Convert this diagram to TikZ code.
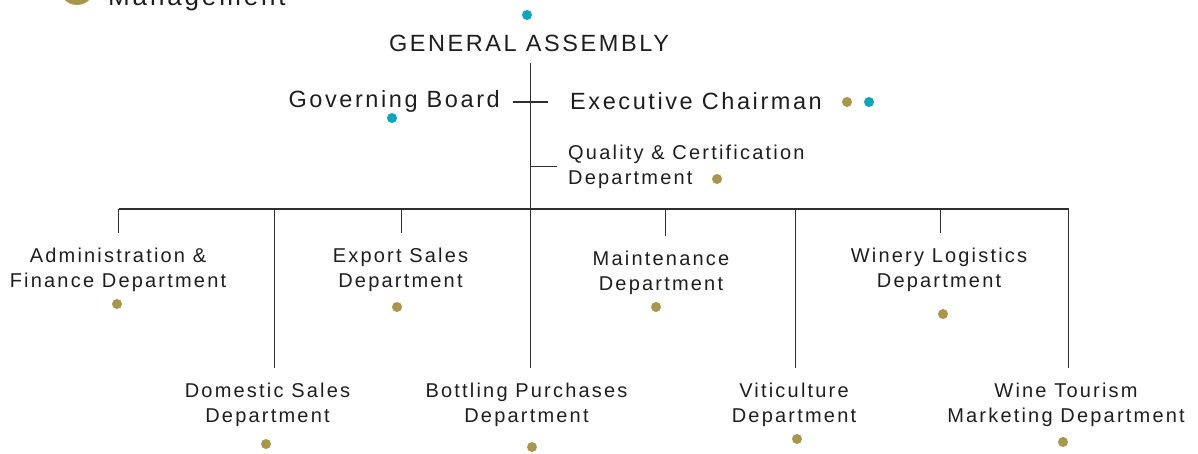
\documentclass[tikz,border=0pt]{standalone}
\usepackage{fontspec}
\setmainfont{Liberation Sans}[LetterSpace=11]
\usetikzlibrary{calc}

\definecolor{gold}{HTML}{A8964A}
\definecolor{azure}{HTML}{0AA5BF}
\definecolor{linegray}{HTML}{2E2E2E}
\definecolor{inkgray}{HTML}{1E1E1E}

\tikzset{
  unit/.style={font=\fontsize{20}{25}\selectfont, text=inkgray, align=center, inner sep=0pt, anchor=north},
  head/.style={font=\fontsize{23.5}{28}\selectfont, text=inkgray, inner sep=0pt},
  link/.style={draw=linegray, line width=1.5pt},
}

\begin{document}
\begin{tikzpicture}[x=1pt,y=-1pt]

	\useasboundingbox (0,0) rectangle (1198,454);
	\clip (0,0) rectangle (1198,454);

	% legend, cut at the top
	\fill[gold] (77,-12.5) circle (17.5pt);
	\node[head, font=\fontsize{26}{30}\selectfont, anchor=base west] (mgmt) at (108,6) {Management};

	% top of the chart
	\node[head, anchor=base] (ga) at (529,52) {GENERAL ASSEMBLY};
	\node[head, anchor=base east] (gb) at (500,108) {Governing Board};
	\node[head, anchor=base west] (ec) at (570,110) {Executive Chairman};
	\node[unit, anchor=north west, align=left] (qc) at (568,144.7) {Quality \& Certification\\Department};

	% departments
	\node[unit] (adm) at (118,247.7) {Administration \&\\Finance Department};
	\node[unit] (exp) at (400.5,247.7) {Export Sales\\Department};
	\node[unit] (mnt) at (661,250.7) {Maintenance\\Department};
	\node[unit] (wl) at (939,247.7) {Winery Logistics\\Department};

	\node[unit] (dom) at (267.5,382.7) {Domestic Sales\\Department};
	\node[unit] (bot) at (526.5,382.7) {Bottling Purchases\\Department};
	\node[unit] (vit) at (794,382.7) {Viticulture\\Department};
	\node[unit] (wt) at (1066,382.7) {Wine Tourism\\Marketing Department};

	\coordinate (spine) at (530.5,63);
	\coordinate (busL) at (118.5,209);
	\coordinate (busR) at (1068.5,209);

	% lines
	\draw[link] (spine) -- ($(spine |- bot.north)+(0,-15)$);
	\draw[link] ([xshift=13pt]gb.east) -- ([xshift=-22pt]ec.west |- gb.east);
	\draw[link] (spine |- qc.west) -- ([xshift=-11pt]qc.west);
	\draw[link] (busL) -- (busR);

	\foreach \n/\dx in {adm/0.5,exp/1,mnt/4.5,wl/1.5,dom/7,vit/1.5,wt/2.5}
		\draw[link] ([xshift=\dx pt]\n.north |- busL) -- ([xshift=\dx pt,yshift=15pt]\n.north);

	% dots
	\foreach \p in {(527,15),(392,118),(869,102)}
		\fill[azure] \p circle (5pt);
	\foreach \p in {(847,102),(717,179),(117,304),(397,307),(656,307),(943,314),(266,444),(532,447),(797,439),(1063,442)}
		\fill[gold] \p circle (5pt);

\end{tikzpicture}
\end{document}
